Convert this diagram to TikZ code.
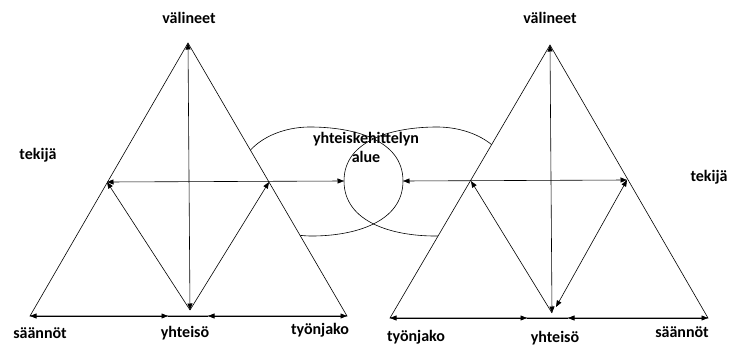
\documentclass[tikz,border=0pt]{standalone}
\usepackage{fontspec}
\setmainfont{Carlito}
\usetikzlibrary{arrows.meta}
\begin{document}
\begin{tikzpicture}[x=1pt,y=-1pt,
  line width=0.6pt,
  >={Triangle[length=6.5pt,width=5pt]},
  lbl/.style={font=\fontsize{16}{17}\selectfont\bfseries, inner sep=0pt},
  edge/.style={draw=black},
  link/.style={draw=black, <->},
  oneway/.style={draw=black, ->}]
\useasboundingbox (0,0) rectangle (731,345);

% corner and junction points, left triangle
\coordinate (A1) at (188,43);
\coordinate (BL1) at (30,316);
\coordinate (BR1) at (347,316);
\coordinate (L1) at (107,182);
\coordinate (R1) at (269,182);
\coordinate (Y1) at (190,310);
\coordinate (S1a) at (168,316);
\coordinate (S1b) at (208,316);

% corner and junction points, right triangle
\coordinate (A2) at (550,45);
\coordinate (BL2) at (390,318);
\coordinate (BR2) at (708,318);
\coordinate (L2) at (471,181);
\coordinate (R2) at (627,180);
\coordinate (Y2) at (552,313);
\coordinate (Y2r) at (556,307);
\coordinate (S2a) at (527,318);
\coordinate (S2b) at (568,318);

% extreme points of the two overlapping areas
\coordinate (E1) at (403,181);
\coordinate (E2) at (344,181);

% the two overlapping areas (parts inside the triangles get covered)
\draw (238,182) to[out=90,in=180] (310,127) to[out=0,in=90] (E1)
      to[out=-90,in=0] (312,236) to[out=180,in=-90] cycle;
\draw (510,182) to[out=90,in=0] (437,127) to[out=180,in=90] (E2)
      to[out=-90,in=180] (435,236) to[out=0,in=-90] cycle;

% triangles
\filldraw[fill=white, edge] (A1) -- (BL1) -- (BR1) -- cycle;
\filldraw[fill=white, edge] (A2) -- (BL2) -- (BR2) -- cycle;

% left triangle connectors
\draw[link] (L1) -- (E2);
\draw[link] (A1) -- (Y1);
\draw[oneway] (Y1) -- (L1);
\draw[oneway] (Y1) -- (R1);
\draw[link] (BL1) -- (S1a);
\draw[edge] (S1a) -- (S1b);
\draw[link] (S1b) -- (BR1);

% right triangle connectors
\draw[link] (E1) -- (R2);
\draw[link] (A2) -- (Y2);
\draw[oneway] (Y2) -- (L2);
\draw[link] (Y2r) -- (R2);
\draw[link] (BL2) -- (S2a);
\draw[edge] (S2a) -- (S2b);
\draw[link] (S2b) -- (BR2);

% labels, left
\node[lbl] (v1) at (189,18) {välineet};
\node[lbl] (t1) at (38,155) {tekijä};
\node[lbl] (s1) at (40,333) {säännöt};
\node[lbl] (y1) at (185,333) {yhteisö};
\node[lbl] (j1) at (320,330) {työnjako};

% labels, right
\node[lbl] (v2) at (550,18) {välineet};
\node[lbl] (t2) at (709,177) {tekijä};
\node[lbl] (j2) at (416,337) {työnjako};
\node[lbl] (y2) at (555,338) {yhteisö};
\node[lbl] (s2) at (682,332) {säännöt};

% shared area label
\node[lbl, align=center] (c) at (366,147) {yhteiskehittelyn\\[2pt]alue};
\end{tikzpicture}
\end{document}
